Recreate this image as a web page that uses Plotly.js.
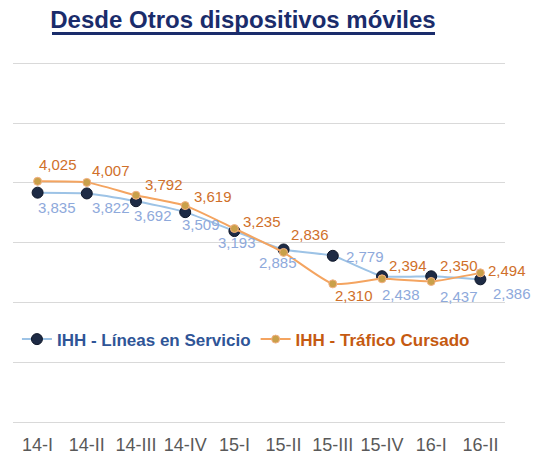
<!DOCTYPE html>
<html>
<head>
<meta charset="utf-8">
<script src="https://cdn.plot.ly/plotly-3.0.1.min.js"></script>
<style>html,body{margin:0;padding:0;background:#fff;}#chart{width:539px;height:460px;}</style>
</head>
<body>
<div id="chart"></div>
<script>
const categories = ['14-I','14-II','14-III','14-IV','15-I','15-II','15-III','15-IV','16-I','16-II'];
const lineas = [3835, 3822, 3692, 3509, 3193, 2885, 2779, 2438, 2437, 2386];
const trafico = [4025, 4007, 3792, 3619, 3235, 2836, 2310, 2394, 2350, 2494];
const seriesNames = ['IHH - Líneas en Servicio', 'IHH - Tráfico Cursado'];
const chartTitle = 'Desde Otros dispositivos móviles';

const fmt = v => v.toLocaleString('en-US');
const FONT = 'Liberation Sans, Arial, sans-serif';

// label offsets in pixels (placement only)
const lineasShift = [[19,15],[24,14],[17,14],[16,12],[3,11],[-6,13],[32,1],[19,18],[28,20],[32,14]];
const traficoShift = [[20,-17],[24,-12],[28,-11],[28,-9],[28,-7],[26,-18],[21,12],[26,-13],[28,-16],[27,-2]];

const traces = [
  {
    x: categories, y: lineas, name: '<b><span style="color:#2F5597">' + seriesNames[0] + '</span></b>',
    type: 'scatter', mode: 'lines+markers',
    line: {color: '#9DC3E6', width: 2, shape: 'spline', smoothing: 0.5},
    marker: {color: '#1E2B45', size: 11, line: {color: '#0E1628', width: 1}},
    cliponaxis: false
  },
  {
    x: categories, y: trafico, name: '<b><span style="color:#C55A11">' + seriesNames[1] + '</span></b>',
    type: 'scatter', mode: 'lines+markers',
    line: {color: '#F4A460', width: 2, shape: 'spline', smoothing: 0.5},
    marker: {color: '#C9A04A', size: 8, line: {color: '#F4B183', width: 1}},
    cliponaxis: false
  }
];

const annotations = [];
lineas.forEach((v, i) => annotations.push({
  x: categories[i], y: v, xref: 'x', yref: 'y', text: fmt(v), showarrow: false,
  xshift: lineasShift[i][0], yshift: -lineasShift[i][1],
  font: {family: FONT, size: 15, color: '#8EA9DB'}
}));
trafico.forEach((v, i) => annotations.push({
  x: categories[i], y: v, xref: 'x', yref: 'y', text: fmt(v), showarrow: false,
  xshift: traficoShift[i][0], yshift: -traficoShift[i][1],
  font: {family: FONT, size: 15, color: '#D0702A'}
}));

const layout = {
  width: 539, height: 460,
  margin: {l: 13, r: 34, t: 62, b: 38},
  paper_bgcolor: '#ffffff', plot_bgcolor: '#ffffff',
  font: {family: FONT},
  title: {
    text: '<b>' + chartTitle + '</b>',
    font: {family: FONT, size: 24, color: '#1A2C6B'},
    x: 243 / 539, xanchor: 'center', y: 1 - 20 / 460, yanchor: 'middle'
  },
  shapes: [{
    type: 'line', xref: 'paper', yref: 'paper',
    x0: (52 - 13) / 492, x1: (435 - 13) / 492, y0: (422 - 33.5) / 360, y1: (422 - 33.5) / 360,
    line: {color: '#1A2C6B', width: 3}
  }],
  xaxis: {
    type: 'category', range: [-0.5, 9.5], showgrid: false, zeroline: false, showline: false,
    ticks: '', ticklabelstandoff: 10, tickfont: {size: 18, color: '#595959', family: FONT},
    fixedrange: true
  },
  yaxis: {
    range: [0, 6020], dtick: 1000, showgrid: true, gridcolor: '#D9D9D9', gridwidth: 1,
    zeroline: true, zerolinecolor: '#D9D9D9', zerolinewidth: 1,
    showticklabels: false, ticks: '', showline: false
  },
  annotations: annotations,
  showlegend: true,
  legend: {
    orientation: 'h', x: 0.008, xanchor: 'left', y: 0.229, yanchor: 'middle',
    font: {size: 17, family: FONT, color: '#2F5597'},
    bgcolor: 'rgba(0,0,0,0)', itemwidth: 30, tracegroupgap: 0
  }
};

Plotly.newPlot('chart', traces, layout, {displayModeBar: false, staticPlot: true});
</script>
</body>
</html>
